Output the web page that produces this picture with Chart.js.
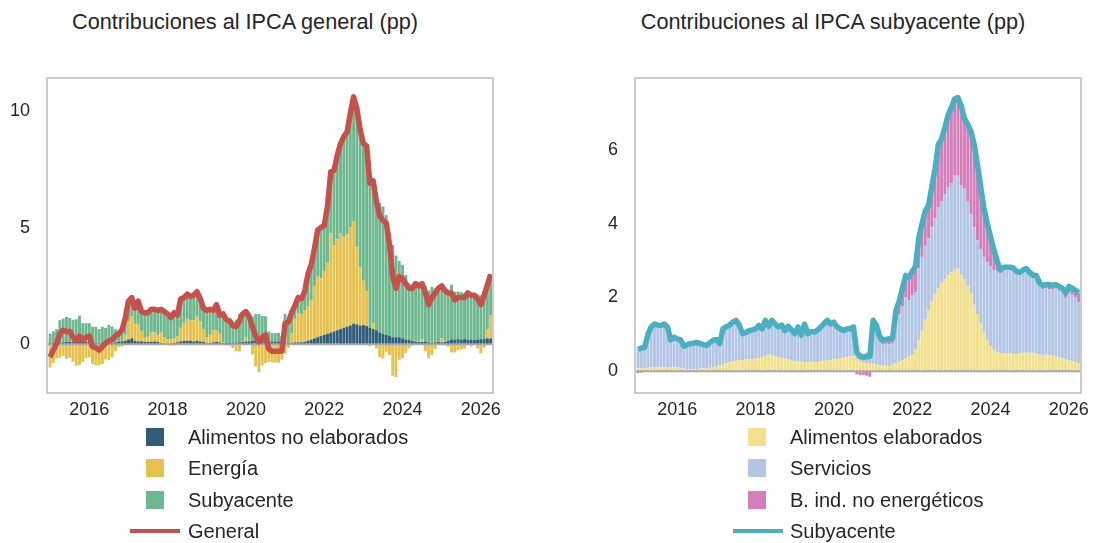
<!DOCTYPE html>
<html>
<head>
<meta charset="utf-8">
<script src="https://cdn.jsdelivr.net/npm/chart.js@4.4.1/dist/chart.umd.min.js"></script>
<style>
body{margin:0;background:#fff;overflow:hidden;width:1094px;height:543px;position:relative;font-family:"Liberation Sans",Arial,sans-serif;color:#262626}
canvas{position:absolute;top:0}
.title{position:absolute;top:9px;width:500px;text-align:center;font-size:21.7px;line-height:26px}
.leg{position:absolute;font-size:20px;line-height:24px;white-space:nowrap}
.sw{position:absolute;width:18px;height:18px}
.ln{position:absolute;height:4px}
</style>
</head>
<body>
<div class="title" style="left:-5px">Contribuciones al IPCA general (pp)</div>
<div class="title" style="left:583px">Contribuciones al IPCA subyacente (pp)</div>
<canvas id="chartGeneral" width="520" height="440" style="left:0"></canvas>
<canvas id="chartCore" width="530" height="440" style="left:585px"></canvas>

<div class="sw" style="left:146px;top:428px;background:#2f5d79"></div>
<div class="leg" style="left:188px;top:425px">Alimentos no elaborados</div>
<div class="sw" style="left:146px;top:459px;background:#e6c14e"></div>
<div class="leg" style="left:188px;top:456px">Energía</div>
<div class="sw" style="left:146px;top:491px;background:#6db88f"></div>
<div class="leg" style="left:188px;top:488px">Subyacente</div>
<div class="ln" style="left:130px;width:50px;top:529px;background:#c8504b"></div>
<div class="leg" style="left:188px;top:519px">General</div>

<div class="sw" style="left:748px;top:428px;background:#f2e08c"></div>
<div class="leg" style="left:790px;top:425px">Alimentos elaborados</div>
<div class="sw" style="left:748px;top:459px;background:#b3c6e6"></div>
<div class="leg" style="left:790px;top:456px">Servicios</div>
<div class="sw" style="left:748px;top:491px;background:#d47eba"></div>
<div class="leg" style="left:790px;top:488px">B. ind. no energéticos</div>
<div class="ln" style="left:733px;width:50px;top:529px;background:#48b0c0"></div>
<div class="leg" style="left:790px;top:519px">Subyacente</div>

<script>
// monthly data, Jan 2015 - Apr 2026
var startYear = 2015;
var yearTicks = [2016, 2018, 2020, 2022, 2024, 2026];

// left chart: contributions to headline (pp)
var general = [-0.55,-0.25,0.05,0.45,0.6,0.55,0.55,0.3,0.15,0.35,0.15,0.3,
0.35,-0.1,-0.15,-0.25,-0.1,0.05,0.15,0.2,0.35,0.45,0.6,1.1,
1.85,2.0,1.55,1.85,1.4,1.35,1.35,1.5,1.5,1.45,1.5,1.4,
1.3,1.15,1.35,1.25,1.95,2.0,2.15,2.05,2.1,2.25,1.95,1.55,
1.45,1.5,1.45,1.7,1.25,1.3,1.05,1.0,0.8,0.75,1.0,1.3,
1.4,1.2,0.75,0.35,0.1,0.3,0.4,-0.2,-0.3,-0.3,-0.3,-0.3,
0.9,0.95,1.35,1.65,2.0,1.95,2.25,3.0,3.4,4.1,4.9,5.0,
5.1,5.9,7.4,7.45,8.1,8.6,8.9,9.1,9.9,10.6,10.1,9.2,
8.6,8.5,6.9,7.0,6.1,5.5,5.3,5.2,4.3,2.9,2.4,2.9,
2.8,2.6,2.4,2.4,2.6,2.5,2.6,2.2,1.7,2.0,2.2,2.4,
2.5,2.3,2.2,2.2,1.9,2.0,2.0,2.0,2.2,2.1,2.1,1.95,
1.7,2.1,2.55,3.0];
var alimNoElab = [0.05,0.05,0.06,0.08,0.08,0.1,0.1,0.1,0.12,0.12,0.1,0.1,
0.1,0.08,0.05,0.05,0.05,0.05,0.06,0.06,0.08,0.1,0.12,0.15,
0.2,0.25,0.15,0.12,0.12,0.1,0.1,0.1,0.12,0.1,0.05,0.03,
0.0,-0.04,0.05,0.08,0.12,0.15,0.15,0.15,0.12,0.15,0.12,0.1,
0.05,0.05,0.08,0.1,0.08,0.05,0.05,0.05,0.05,0.05,0.08,0.1,
0.12,0.12,0.15,0.2,0.22,0.2,0.15,0.12,0.12,0.1,0.12,0.1,
0.05,0.05,0.05,0.08,0.08,0.08,0.1,0.15,0.2,0.25,0.3,0.35,
0.4,0.45,0.5,0.55,0.6,0.65,0.7,0.75,0.8,0.88,0.85,0.8,
0.82,0.78,0.7,0.65,0.6,0.5,0.45,0.4,0.35,0.3,0.3,0.3,
0.25,0.2,0.18,0.15,0.12,0.1,0.1,0.1,0.08,0.05,0.08,0.1,
0.08,0.1,0.15,0.2,0.2,0.22,0.2,0.22,0.2,0.2,0.18,0.2,
0.22,0.22,0.25,0.25];
var energia = [-1.0,-0.8,-0.6,-0.58,-0.5,-0.62,-0.58,-0.75,-0.92,-0.88,-0.75,-0.6,
-0.55,-0.85,-0.9,-0.9,-0.85,-0.65,-0.68,-0.56,-0.3,-0.1,-0.1,0.25,
0.8,0.95,0.72,0.75,0.45,0.2,0.22,0.4,0.38,0.3,0.45,0.28,
0.21,0.2,0.19,0.25,0.58,0.77,0.91,0.88,0.91,1.03,0.87,0.53,
0.26,0.35,0.51,0.51,0.37,0.02,-0.05,-0.06,-0.17,-0.3,-0.31,0.02,
0.19,-0.03,-0.44,-0.95,-1.2,-0.91,-0.8,-0.75,-0.78,-0.78,-0.79,-0.66,
-0.4,-0.16,0.41,0.99,1.24,1.2,1.36,1.46,1.67,2.25,2.61,2.47,
2.74,3.04,4.25,3.7,3.9,4.1,3.9,3.95,4.2,4.4,3.3,2.5,
1.9,1.5,-0.09,0.24,-0.18,-0.56,-0.61,-0.33,-0.46,-1.35,-1.4,-0.67,
-0.6,-0.37,-0.18,-0.06,0.03,0.02,0.12,-0.3,-0.6,-0.46,-0.2,0.01,
0.18,0.02,-0.1,-0.35,-0.35,-0.25,-0.23,-0.19,-0.04,-0.09,-0.05,-0.18,
-0.4,-0.15,0.4,1.0];
var subyacenteGen = [0.40,0.50,0.59,0.95,1.02,1.07,1.03,0.95,0.95,1.11,0.80,0.80,
0.80,0.67,0.70,0.60,0.70,0.65,0.77,0.70,0.57,0.45,0.58,0.70,
0.85,0.80,0.68,0.98,0.83,1.05,1.03,1.00,1.00,1.05,1.00,1.09,
1.09,0.99,1.11,0.92,1.25,1.08,1.09,1.02,1.07,1.07,0.96,0.92,
1.14,1.10,0.86,1.09,0.80,1.23,1.05,1.01,0.92,1.00,1.23,1.18,
1.09,1.11,1.04,1.10,1.08,1.01,1.05,0.43,0.36,0.38,0.37,0.26,
1.25,1.06,0.89,0.58,0.68,0.67,0.79,1.39,1.53,1.60,1.99,2.18,
1.96,2.41,2.65,3.20,3.60,3.85,4.30,4.40,4.90,5.32,5.95,5.90,
5.88,6.22,6.29,6.11,5.68,5.56,5.46,5.13,4.41,3.95,3.50,3.27,
3.15,2.77,2.40,2.31,2.45,2.38,2.38,2.40,2.22,2.41,2.32,2.29,
2.24,2.18,2.15,2.35,2.05,2.03,2.03,1.97,2.04,1.99,1.97,1.93,
1.88,2.03,1.90,1.75];

// right chart: contributions to core (pp)
var subyacente = [0.6,0.63,0.65,1.0,1.2,1.28,1.25,1.24,1.28,1.2,0.85,0.92,
0.88,0.85,0.68,0.72,0.75,0.76,0.78,0.75,0.72,0.7,0.78,0.84,
0.86,0.75,1.15,1.2,1.25,1.33,1.38,1.25,1.02,1.05,1.1,1.12,
1.15,1.24,1.15,1.38,1.22,1.38,1.28,1.2,1.25,1.1,1.22,1.12,
1.02,1.2,0.98,1.28,1.02,1.08,1.06,1.12,1.2,1.3,1.38,1.28,
1.33,1.2,1.15,1.1,1.15,1.15,1.2,0.52,0.4,0.38,0.39,0.4,
1.38,1.25,0.95,0.84,0.86,0.88,0.9,1.65,1.9,2.25,2.6,2.55,
2.7,2.85,3.6,4.0,4.35,4.5,5.0,5.5,6.15,6.3,6.6,6.95,
7.15,7.38,7.42,7.2,6.85,6.7,6.5,6.15,5.6,5.0,4.4,4.0,
3.65,3.3,3.0,2.75,2.82,2.82,2.82,2.8,2.7,2.68,2.75,2.78,
2.68,2.6,2.6,2.4,2.32,2.35,2.35,2.33,2.35,2.3,2.25,2.12,
2.3,2.25,2.2,2.12];
var alimElab = [0.08,0.08,0.08,0.09,0.1,0.1,0.1,0.1,0.1,0.1,0.1,0.1,
0.1,0.08,0.07,0.06,0.06,0.06,0.06,0.07,0.08,0.08,0.09,0.1,
0.12,0.15,0.18,0.22,0.25,0.27,0.28,0.3,0.3,0.32,0.33,0.33,
0.35,0.36,0.38,0.4,0.45,0.42,0.4,0.38,0.36,0.34,0.32,0.3,
0.28,0.27,0.26,0.25,0.25,0.24,0.24,0.25,0.27,0.28,0.3,0.3,
0.32,0.33,0.35,0.37,0.38,0.4,0.4,0.33,0.28,0.25,0.22,0.2,
0.2,0.18,0.16,0.15,0.15,0.14,0.2,0.22,0.27,0.3,0.35,0.4,
0.45,0.6,0.85,1.1,1.4,1.65,1.9,2.1,2.25,2.4,2.5,2.6,
2.68,2.75,2.78,2.6,2.5,2.3,2.1,1.8,1.55,1.3,1.05,0.85,
0.68,0.58,0.52,0.48,0.48,0.48,0.48,0.47,0.47,0.48,0.5,0.5,
0.5,0.5,0.48,0.45,0.42,0.45,0.44,0.42,0.4,0.38,0.35,0.32,
0.3,0.28,0.25,0.22];
var servicios = [0.57,0.59,0.57,0.88,1.05,1.13,1.10,1.09,1.12,1.04,0.68,0.75,
0.71,0.69,0.53,0.59,0.63,0.64,0.67,0.63,0.59,0.58,0.65,0.69,
0.69,0.56,0.93,0.94,0.96,1.01,1.05,0.90,0.68,0.69,0.73,0.75,
0.76,0.85,0.74,0.95,0.74,0.93,0.85,0.79,0.86,0.73,0.86,0.78,
0.69,0.88,0.66,0.97,0.71,0.78,0.76,0.82,0.88,0.97,1.03,0.93,
0.96,0.83,0.76,0.70,0.75,0.75,0.82,0.27,0.22,0.23,0.29,0.35,
1.08,0.97,0.64,0.57,0.59,0.59,0.55,1.13,1.28,1.45,1.65,1.53,
1.60,1.55,1.95,2.00,2.00,1.95,2.00,2.05,2.20,2.20,2.30,2.38,
2.42,2.55,2.52,2.45,2.45,2.30,2.15,2.10,2.00,2.00,2.05,2.10,
2.17,2.17,2.18,2.17,2.24,2.26,2.26,2.23,2.15,2.15,2.17,2.18,
2.10,2.04,2.04,1.85,1.80,1.80,1.79,1.81,1.85,1.80,1.78,1.65,
1.85,1.79,1.75,1.65];
var bieNoEnerg = [-0.05,-0.04,0.0,0.03,0.05,0.05,0.05,0.05,0.06,0.06,0.07,0.07,
0.07,0.08,0.08,0.07,0.06,0.06,0.05,0.05,0.05,0.04,0.04,0.05,
0.05,0.04,0.04,0.04,0.04,0.05,0.05,0.05,0.04,0.04,0.04,0.04,
0.04,0.03,0.03,0.03,0.03,0.03,0.03,0.03,0.03,0.03,0.04,0.04,
0.05,0.05,0.06,0.06,0.06,0.06,0.06,0.05,0.05,0.05,0.05,0.05,
0.05,0.04,0.04,0.03,0.02,0.0,-0.02,-0.08,-0.1,-0.1,-0.12,-0.15,
0.1,0.1,0.15,0.12,0.12,0.15,0.15,0.3,0.35,0.5,0.6,0.62,
0.65,0.7,0.8,0.9,0.95,0.9,1.1,1.35,1.7,1.7,1.8,1.97,
2.05,2.08,2.12,2.15,1.9,2.1,2.25,2.25,2.05,1.7,1.3,1.05,
0.8,0.55,0.3,0.1,0.1,0.08,0.08,0.1,0.08,0.05,0.08,0.1,
0.08,0.06,0.08,0.1,0.1,0.1,0.12,0.1,0.1,0.12,0.12,0.15,
0.15,0.18,0.2,0.25];

// x positions as decimal years
var months = general.map(function(v, i){ return startYear + i / 12; });

var font = {family: '"Liberation Sans", Arial, sans-serif', size: 18};

// plot frame on 4 sides + zero line under the line series
var framePlugin = {
    id: 'frame',
    beforeDatasetDraw: function(chart, args) {
        if (args.meta.type !== 'line') return;
        var a = chart.chartArea, c = chart.ctx;
        var y0 = chart.scales.y.getPixelForValue(0);
        c.save();
        c.strokeStyle = '#a9a9a9';
        c.lineWidth = 2;
        c.beginPath(); c.moveTo(a.left, y0); c.lineTo(a.right, y0); c.stroke();
        c.restore();
    },
    afterDraw: function(chart) {
        var a = chart.chartArea, c = chart.ctx;
        c.save();
        c.strokeStyle = '#cccccc';
        c.lineWidth = 2;
        c.strokeRect(a.left, a.top, a.right - a.left, a.bottom - a.top);
        c.restore();
    }
};

function bar(label, data, color) {
    return {type: 'bar', label: label, data: data, backgroundColor: color, borderWidth: 0,
        barPercentage: 0.9, categoryPercentage: 1, order: 1};
}
function line(label, data, color) {
    return {type: 'line', label: label, data: data, borderColor: color, borderWidth: 5.5,
        pointRadius: 0, tension: 0, fill: false, borderJoinStyle: 'round', order: 0};
}

function options(yMin, yMax, yStep, yWidth, padRight) {
    return {
        responsive: false,
        animation: false,
        devicePixelRatio: 1,
        layout: {padding: {top: 78, right: padRight, left: 0, bottom: 0}},
        plugins: {legend: {display: false}, tooltip: {enabled: false}},
        scales: {
            x: {
                type: 'linear', min: 2014.92, max: 2026.31, stacked: true, offset: false,
                grid: {display: false, drawTicks: false}, border: {display: false},
                afterFit: function(s){ s.height = 47; },
                ticks: {
                    stepSize: 2, includeBounds: false, padding: 6, color: '#262626', font: font,
                    callback: function(v){ return yearTicks.indexOf(v) >= 0 ? String(v) : ''; }
                }
            },
            y: {
                stacked: true, min: yMin, max: yMax,
                grid: {display: false, drawTicks: false}, border: {display: false},
                afterFit: function(s){ s.width = yWidth; },
                ticks: {stepSize: yStep, includeBounds: false, padding: 17, color: '#262626', font: font}
            }
        }
    };
}

new Chart(document.getElementById('chartGeneral'), {
    data: {
        labels: months,
        datasets: [
            bar('Alimentos no elaborados', alimNoElab, '#2f5d79'),
            bar('Energía', energia, '#e6c14e'),
            bar('Subyacente', subyacenteGen, '#6db88f'),
            line('General', general, '#c8504b')
        ]
    },
    options: options(-2.09, 11.41, 5, 47, 27),
    plugins: [framePlugin]
});

new Chart(document.getElementById('chartCore'), {
    data: {
        labels: months,
        datasets: [
            bar('Alimentos elaborados', alimElab, '#f2e08c'),
            bar('Servicios', servicios, '#b3c6e6'),
            bar('B. ind. no energéticos', bieNoEnerg, '#d47eba'),
            line('Subyacente', subyacente, '#48b0c0')
        ]
    },
    options: options(-0.59, 7.95, 2, 50, 34),
    plugins: [framePlugin]
});
</script>
</body>
</html>
